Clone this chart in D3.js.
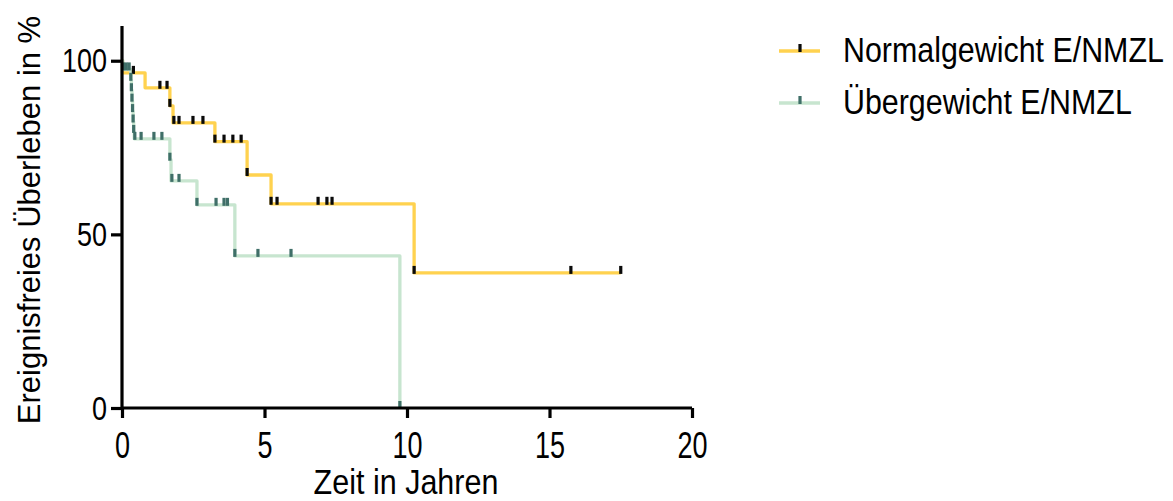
<!DOCTYPE html>
<html>
<head>
<meta charset="utf-8">
<script src="https://cdn.jsdelivr.net/npm/d3@7"></script>
<style>
  html, body { margin: 0; padding: 0; background: #fff; }
  svg { display: block; }
  text { font-family: "Liberation Sans", Arial, sans-serif; fill: #000; }
</style>
</head>
<body>
<svg id="chart" width="1173" height="501"></svg>
<script>
// Kaplan-Meier: event times (years) and survival (%) after each step
const normalTime = [0, 0.02, 0.81, 1.68, 1.79, 3.26, 4.39, 5.23, 10.25, 17.5];
const normalSurv = [100, 96.5, 92.2, 87.0, 82.1, 76.7, 67.1, 58.8, 38.9, 38.9];
const normalCensored = [0.4, 1.33, 1.58, 1.68, 1.82, 2.0, 2.49, 2.84, 3.26, 3.58, 3.89, 4.18,
                        4.39, 5.23, 5.44, 6.88, 7.19, 7.37, 10.25, 15.75, 17.5];

const overTime = [0, 0.03, 0.31, 0.33, 0.35, 0.37, 0.39, 0.41, 0.43, 1.68, 1.72, 2.63, 3.96, 9.75];
const overSurv = [100, 97.5, 94.5, 91.5, 88.5, 85.5, 82.5, 79.5, 77.5, 71.5, 65.4, 58.5, 43.8, 0];
const overCensored = [0.05, 0.15, 0.25, 0.31, 0.33, 0.35, 0.37, 0.39, 0.41, 0.45, 0.67, 1.12, 1.40,
                      1.68, 1.75, 2.0, 2.63, 3.3, 3.58, 3.7, 3.96, 4.77, 5.93, 9.75];

const xTicks = [0, 5, 10, 15, 20];
const yTicks = [0, 50, 100];
const seriesNames = ["Normalgewicht E/NMZL", "Übergewicht E/NMZL"];

const series = [
  { name: seriesNames[0], time: normalTime, surv: normalSurv, cens: normalCensored,
    line: "#FFD24F", tick: "#0a0a0a" },
  { name: seriesNames[1], time: overTime, surv: overSurv, cens: overCensored,
    line: "#C7E5CF", tick: "#3F6F68" }
];

const svg = d3.select("#chart");
const x = d3.scaleLinear().domain([0, 20]).range([122, 692]);
const y = d3.scaleLinear().domain([0, 110]).range([408, 26]);

// survival level at time t (step function, right-continuous)
function levelAt(s, t) {
  let v = s.surv[0];
  for (let i = 0; i < s.time.length; i++) if (s.time[i] <= t + 1e-9) v = s.surv[i];
  return v;
}

const line = d3.line()
  .x(d => x(d[0]))
  .y(d => y(d[1]))
  .curve(d3.curveStepAfter);

const plot = svg.append("g");

series.forEach(s => {
  const pts = s.time.map((t, i) => [t, s.surv[i]]);
  plot.append("path")
    .attr("d", line(pts))
    .attr("fill", "none")
    .attr("stroke", s.line)
    .attr("stroke-width", 3.3)
    .attr("stroke-linejoin", "round");
});

series.forEach(s => {
  plot.append("g").selectAll("rect")
    .data(s.cens)
    .join("rect")
    .attr("x", t => x(t) - 1.6)
    .attr("y", t => y(levelAt(s, t)) - 7)
    .attr("width", 3.2)
    .attr("height", 8)
    .attr("fill", s.tick);
});

// axes
const xAxis = svg.append("g").attr("transform", "translate(0,408)")
  .call(d3.axisBottom(x).tickValues(xTicks).tickSize(10).tickPadding(6).tickFormat(d3.format("d")));
const yAxis = svg.append("g").attr("transform", "translate(122,0)")
  .call(d3.axisLeft(y).tickValues(yTicks).tickSize(11).tickPadding(4).tickFormat(d3.format("d")));

[xAxis, yAxis].forEach(g => {
  g.select(".domain").attr("stroke", "#000").attr("stroke-width", 3.2);
  g.selectAll(".tick line").attr("stroke", "#000").attr("stroke-width", 3.2);
  g.selectAll(".tick text").attr("fill", "#000")
    .attr("font-family", "Liberation Sans, Arial, sans-serif");
});
yAxis.select(".domain").attr("d", `M0,${y(110)}V408`);
xAxis.select(".domain").attr("d", `M${x(0)},0H${x(20)}`);

// tick labels are drawn slightly taller than wide
xAxis.selectAll(".tick text")
  .attr("font-size", 27)
  .attr("y", 0).attr("dy", 0)
  .attr("transform", "translate(0,50) scale(1,1.4)");
yAxis.selectAll(".tick text")
  .attr("font-size", 27)
  .attr("dy", 0)
  .attr("transform", "translate(0,11) scale(1,1.2)");

// axis titles
svg.append("text")
  .attr("x", 0).attr("y", 0)
  .attr("text-anchor", "middle")
  .attr("font-size", 30.5)
  .attr("transform", "translate(406,494) scale(1,1.12)")
  .text("Zeit in Jahren");

svg.append("text")
  .attr("transform", "translate(40,220) rotate(-90)")
  .attr("text-anchor", "middle")
  .attr("font-size", 31)
  .text("Ereignisfreies Überleben in %");

// legend
const legendY = [51, 103];
series.forEach((s, i) => {
  const g = svg.append("g").attr("transform", `translate(0,${legendY[i]})`);
  g.append("line").attr("x1", 779).attr("x2", 820).attr("y1", 0).attr("y2", 0)
    .attr("stroke", s.line).attr("stroke-width", 3.3);
  g.append("rect").attr("x", 798.4).attr("y", -7).attr("width", 3.2).attr("height", 8)
    .attr("fill", s.tick);
  g.append("text").attr("x", 0).attr("y", 0)
    .attr("font-size", 30.4)
    .attr("transform", "translate(843,11) scale(1,1.15)")
    .text(s.name);
});
</script>
</body>
</html>
